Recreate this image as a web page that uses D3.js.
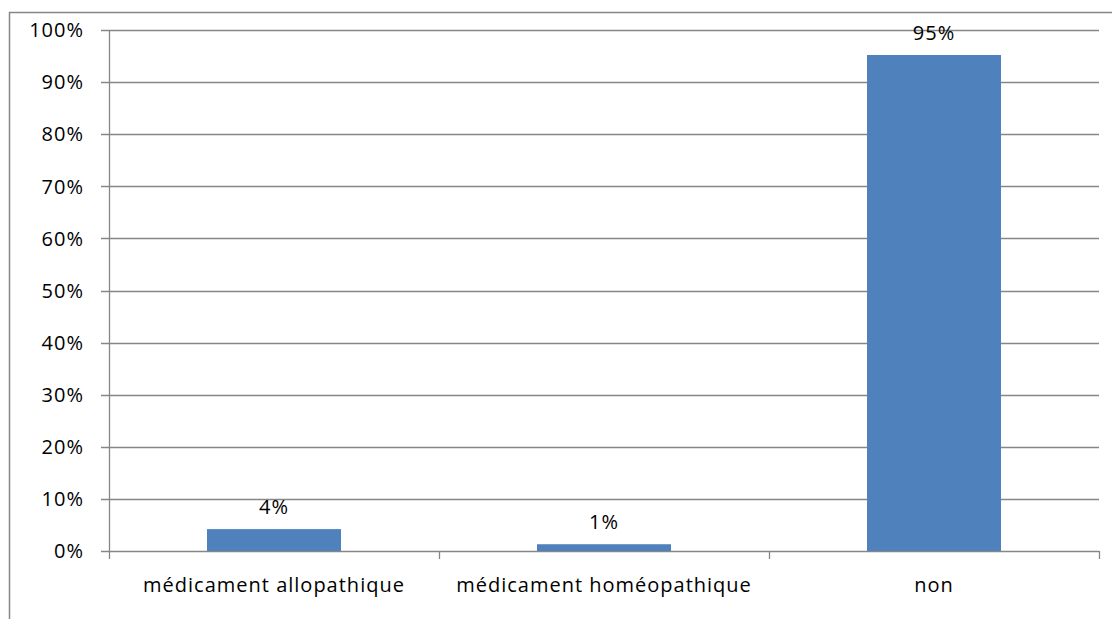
<!DOCTYPE html>
<html>
<head>
<meta charset="utf-8">
<script src="https://cdn.jsdelivr.net/npm/d3@7"></script>
<style>
  body { margin: 0; background: #fff; }
  svg { display: block; }
</style>
</head>
<body>
<div id="chart"></div>
<script>
// données
var categories = ["médicament allopathique", "médicament homéopathique", "non"];
var values = [0.042, 0.013, 0.952];
var yTicks = [0, 0.1, 0.2, 0.3, 0.4, 0.5, 0.6, 0.7, 0.8, 0.9, 1];

var width = 1112;
var height = 619;
var margin = { top: 30, right: 13, bottom: 68, left: 109 };
var font = "'Open Sans', sans-serif";
var grey = "#868686";
var fontSize = 20;

var svg = d3.select("#chart")
            .append("svg")
            .attr("width", width)
            .attr("height", height)
            .style("font-family", font)
            .style("letter-spacing", "1px");

// cadre extérieur
svg.append("rect")
   .attr("x", 9.5)
   .attr("y", 12.5)
   .attr("width", width)
   .attr("height", height)
   .attr("fill", "none")
   .attr("stroke", grey)
   .attr("stroke-width", 1.5);

var x = d3.scaleBand()
          .domain(categories)
          .range([margin.left, width - margin.right])
          .paddingInner(0.594)
          .paddingOuter(0.297);

var xOuter = d3.scaleBand()
               .domain(categories)
               .range([margin.left, width - margin.right]);

var y = d3.scaleLinear()
          .domain([0, 1])
          .range([height - margin.bottom, margin.top]);

// lignes de quadrillage
svg.append("g")
   .selectAll("line")
   .data(yTicks)
   .join("line")
   .attr("x1", margin.left - 8)
   .attr("x2", width - margin.right)
   .attr("y1", function(d) { return Math.round(y(d)) + 0.5; })
   .attr("y2", function(d) { return Math.round(y(d)) + 0.5; })
   .attr("stroke", grey)
   .attr("stroke-width", 1.3);

// axe vertical
svg.append("line")
   .attr("x1", margin.left + 0.5)
   .attr("x2", margin.left + 0.5)
   .attr("y1", margin.top)
   .attr("y2", height - margin.bottom + 8)
   .attr("stroke", grey)
   .attr("stroke-width", 1.3);

// graduations de l'axe horizontal
var xTickPos = categories.map(function(c) { return xOuter(c) + xOuter.bandwidth(); });
svg.append("g")
   .selectAll("line")
   .data(xTickPos)
   .join("line")
   .attr("x1", function(d) { return Math.round(d) + 0.5; })
   .attr("x2", function(d) { return Math.round(d) + 0.5; })
   .attr("y1", y(0))
   .attr("y2", y(0) + 8)
   .attr("stroke", grey)
   .attr("stroke-width", 1.3);

// étiquettes de l'axe vertical
svg.append("g")
   .selectAll("text")
   .data(yTicks)
   .join("text")
   .attr("x", 84)
   .attr("y", function(d) { return y(d); })
   .attr("dy", "0.36em")
   .attr("text-anchor", "end")
   .attr("font-size", fontSize)
   .attr("fill", "#000")
   .text(d3.format(".0%"));

// barres
svg.append("g")
   .selectAll("rect")
   .data(values)
   .join("rect")
   .attr("x", function(d, i) { return x(categories[i]); })
   .attr("width", x.bandwidth())
   .attr("y", function(d) { return y(d); })
   .attr("height", function(d) { return y(0) - y(d); })
   .attr("fill", "#4F81BD");

// étiquettes des valeurs
svg.append("g")
   .selectAll("text")
   .data(values)
   .join("text")
   .attr("x", function(d, i) { return x(categories[i]) + x.bandwidth() / 2; })
   .attr("y", function(d) { return y(d) - 15; })
   .attr("text-anchor", "middle")
   .attr("font-size", fontSize)
   .attr("fill", "#000")
   .text(d3.format(".0%"));

// étiquettes des catégories
svg.append("g")
   .selectAll("text")
   .data(categories)
   .join("text")
   .attr("x", function(d) { return xOuter(d) + xOuter.bandwidth() / 2; })
   .attr("y", 592)
   .attr("text-anchor", "middle")
   .attr("font-size", fontSize)
   .attr("fill", "#000")
   .text(function(d) { return d; });
</script>
</body>
</html>
